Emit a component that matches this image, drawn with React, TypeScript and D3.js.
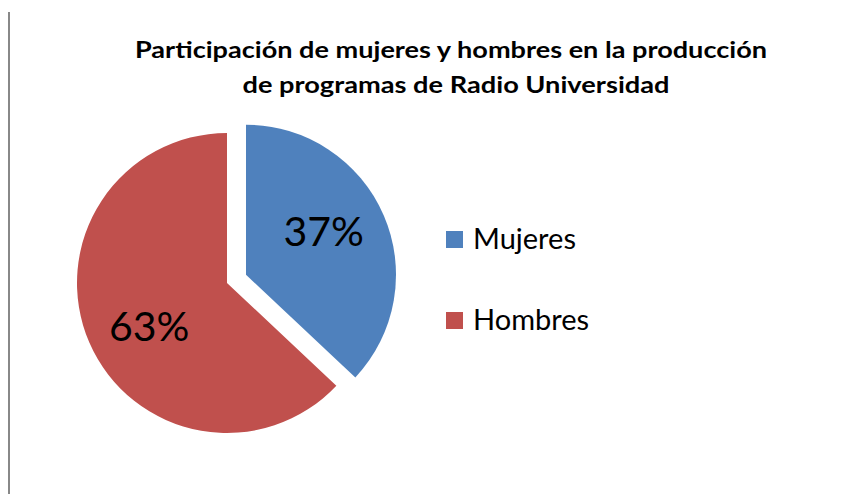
import React from "react";
import * as d3 from "d3";

const categories = ["Mujeres", "Hombres"];
const values = [37, 63];
const colors = ["#4F81BD", "#C0504D"];
const titleLines = [
  "Participación de mujeres y hombres en la producción",
  "de programas de Radio Universidad",
];

const W = 859;
const H = 494;
const cx = 227;
const cy = 283;
const R = 150;
const explode = [20.7, 0];
const FONT = "Lato, 'Open Sans', sans-serif";

export default function App() {
  const pie = d3.pie<number>().sort(null).value((d) => d)(values);
  const arc = d3.arc<d3.PieArcDatum<number>>().innerRadius(0).outerRadius(R);
  const total = d3.sum(values);
  const fmt = d3.format(".0%");
  const labelR = 89;
  const labelRot = -0.1;

  return (
    <svg
      width={W}
      height={H}
      style={{ position: "absolute", left: 0, top: 0, background: "#fff" }}
      fontFamily={FONT}
    >
      <rect x={0} y={0} width={W} height={H} fill="#fff" />
      <line x1={9} x2={9} y1={12} y2={494} stroke="#888" strokeWidth={2} />
      {titleLines.map((t, i) => (
        <text
          key={i}
          x={i === 0 ? 451 : 456}
          y={58 + i * 35}
          textAnchor="middle"
          fontWeight="bold"
          fontSize={22}
          fill="#000"
          textLength={i === 0 ? 632 : 427}
          lengthAdjust="spacingAndGlyphs"
        >
          {t}
        </text>
      ))}
      {pie.map((p, i) => {
        const mid = (p.startAngle + p.endAngle) / 2;
        const dx = Math.sin(mid) * explode[i];
        const dy = -Math.cos(mid) * explode[i];
        const la = mid + labelRot;
        const lx = Math.sin(la) * labelR;
        const ly = -Math.cos(la) * labelR;
        return (
          <g key={i} transform={`translate(${cx + dx},${cy + dy})`}>
            <path d={arc(p) || ""} fill={colors[i]} />
            <text
              x={lx}
              y={ly}
              dy="0.36em"
              textAnchor="middle"
              fontSize={41}
              fill="#000"
            >
              {fmt(values[i] / total)}
            </text>
          </g>
        );
      })}
      {categories.map((c, i) => (
        <g key={c} transform={`translate(446,${231 + i * 81})`}>
          <rect x={0} y={0} width={17} height={17} fill={colors[i]} />
          <text x={27} y={18} fontSize={29} fill="#000">
            {c}
          </text>
        </g>
      ))}
    </svg>
  );
}
